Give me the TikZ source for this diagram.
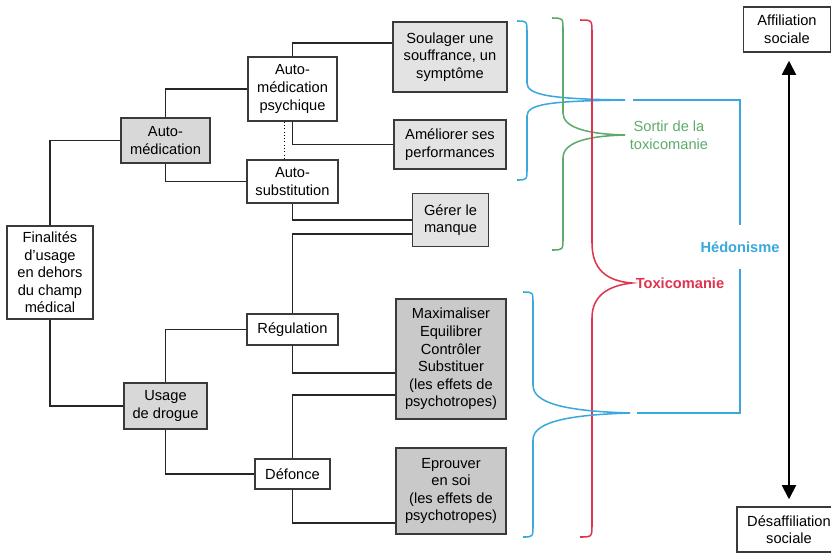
\documentclass[tikz,border=0pt]{standalone}
\usepackage{fontspec}
\setmainfont{Liberation Sans}
\usetikzlibrary{arrows.meta}

\definecolor{boxBorder}{HTML}{3A3A3A}
\definecolor{boxLight}{HTML}{E3E3E3}
\definecolor{boxMid}{HTML}{D8D8D8}
\definecolor{boxDark}{HTML}{C9C9C9}
\definecolor{hedoBlue}{HTML}{3AA8DC}
\definecolor{sortirGreen}{HTML}{5DAA6B}
\definecolor{toxRed}{HTML}{E0334E}

\tikzstyle{block} = [rectangle, draw=boxBorder, line width=1.3pt, align=center,
inner sep=1pt, font=\fontsize{12.5}{15}\selectfont]
\tikzstyle{lightblock} = [block, fill=boxLight]
\tikzstyle{midblock} = [block, fill=boxMid]
\tikzstyle{darkblock} = [block, fill=boxDark]
\tikzstyle{line} = [draw, line width=1.5pt, color=black!85]
\tikzstyle{brace} = [line width=1.3pt]
\tikzstyle{label} = [inner sep=3pt, align=center, font=\fontsize{12.5}{15}\selectfont]
\tikzstyle{bigarrow} = [line width=1.6pt, {Triangle[width=12pt,length=12pt]}-{Triangle[width=12pt,length=12pt]}]

\begin{document}
\begin{tikzpicture}[x=0.03cm, y=-0.03cm]

   \useasboundingbox (0,0) rectangle (831,552);

   \node[block, minimum width=2.58cm, minimum height=2.79cm] (fin) at (50,272.5) {Finalités\\d'usage\\en dehors\\du champ\\médical};

   \node[midblock, minimum width=2.67cm, minimum height=1.35cm] (automed) at (165.5,140.5) {Auto-\\médication};
   \node[midblock, minimum width=2.49cm, minimum height=1.38cm] (usage) at (165.5,406) {Usage\\de drogue};

   \node[block, minimum width=2.67cm, minimum height=1.92cm] (psych) at (292.5,89) {Auto-\\médication\\psychique};
   \node[block, minimum width=2.73cm, minimum height=1.29cm] (subst) at (292.5,181.5) {Auto-\\substitution};
   \node[block, minimum width=2.73cm, minimum height=0.93cm] (regul) at (292.5,329.5) {Régulation};
   \node[block, minimum width=2.25cm, minimum height=0.9cm] (defonce) at (292.5,474) {Défonce};

   \node[lightblock, minimum width=3.42cm, minimum height=2.1cm] (soul) at (450,57) {Soulager une\\souffrance, un\\symptôme};
   \node[lightblock, minimum width=3.36cm, minimum height=1.47cm] (amel) at (450,144.5) {Améliorer ses\\performances};
   \node[lightblock, minimum width=2.28cm, minimum height=1.59cm] (gerer) at (450.5,220) {Gérer le\\manque};
   \node[darkblock, minimum width=3.3cm, minimum height=3.6cm] (maxi) at (451,359) {Maximaliser\\Equilibrer\\Contrôler\\Substituer\\(les effets de\\psychotropes)};
   \node[darkblock, minimum width=3.3cm, minimum height=2.58cm] (eprouv) at (451,491) {Eprouver\\en soi\\(les effets de\\psychotropes)};

   \node[block, minimum width=2.61cm, minimum height=1.35cm] (affil) at (787,29.5) {Affiliation\\sociale};
   \node[block, minimum width=3.12cm, minimum height=1.35cm] (desaff) at (789,529.5) {Désaffiliation\\sociale};

   %% Lines

   \path[line] (fin.north) |- (automed.west);
   \path[line] (fin.south) |- (usage.west);
   \path[line] (automed.north) |- (psych.west);
   \path[line] (automed.south) |- (subst.west);
   \path[line] (psych.north) |- ([yshift=0.42cm]soul.west);
   \path[line] (psych.south) |- (amel.west);
   \draw[line width=0.8pt, dotted] ([xshift=-0.25cm]psych.south) -- ([xshift=-0.25cm]subst.north);
   \path[line] (subst.south) |- (gerer.west);
   \path[line] ([yshift=-0.42cm]gerer.west) -| (regul.north);
   \path[line] (usage.north) |- (regul.west);
   \path[line] (usage.south) |- (defonce.west);
   \path[line] (regul.south) |- ([yshift=-0.42cm]maxi.west);
   \path[line] (defonce.north) |- ([yshift=-1.08cm]maxi.west);
   \path[line] (defonce.south) |- ([yshift=-0.96cm]eprouv.west);

   % Braces
   \draw[brace, hedoBlue] (517,21) .. controls (527,21) .. (527,33) -- (527,83)
      .. controls (527,95) and (550,99) .. (625,100) coordinate (tipA)
      .. controls (550,101) and (527,104) .. (527,116) -- (527,168)
      .. controls (527,180) .. (517,180);
   \draw[brace, sortirGreen] (552,18) .. controls (563,18) .. (563,30) -- (563,113)
      .. controls (563,127) and (585,134) .. (625,135) coordinate (tipG)
      .. controls (585,136) and (563,143) .. (563,158) -- (563,238)
      .. controls (563,250) .. (552,250);
   \draw[brace, toxRed] (580,20) .. controls (592,20) .. (592,33) -- (592,243)
      .. controls (592,268) and (605,281) .. (632,283) coordinate (tipR)
      .. controls (605,286) and (592,298) .. (592,318) -- (592,524)
      .. controls (592,537) .. (580,537);
   \draw[brace, hedoBlue] (523,292) .. controls (533,292) .. (533,304) -- (533,385)
      .. controls (533,402) and (560,411) .. (630,413) coordinate (tipB)
      .. controls (560,415) and (533,424) .. (533,440) -- (533,525)
      .. controls (533,537) .. (523,537);

   % Labels of the braces
   \node[label, text=sortirGreen, anchor=west, inner xsep=4pt] (sortir) at (tipG) {Sortir de la\\toxicomanie};
   \node[label, text=toxRed, anchor=west, font=\fontsize{12.5}{15}\selectfont\bfseries] (tox) at (tipR) {Toxicomanie};
   \node[label, text=hedoBlue, minimum height=1.29cm, font=\fontsize{12.5}{15}\selectfont\bfseries] (hedo) at (740,247) {Hédonisme};

   \draw[brace, hedoBlue] ([xshift=0.24cm]tipA) -| (hedo.north);
   \draw[brace, hedoBlue] (hedo.south) |- ([xshift=0.21cm]tipB);

   % Social axis
   \draw[bigarrow, shorten <=0.24cm, shorten >=0.21cm] (affil.south -| desaff.north) -- (desaff.north);

\end{tikzpicture}
\end{document}
